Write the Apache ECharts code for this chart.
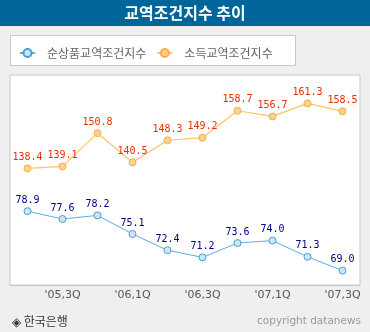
<!DOCTYPE html>
<html><head><meta charset="utf-8">
<script src="https://cdn.jsdelivr.net/npm/echarts@6/dist/echarts.min.js"></script>
<style>html,body{margin:0;padding:0;background:#efefef;}#c{width:370px;height:332px;}</style>
</head><body><div id="c"></div>
<script>
const categories = ["'05,2Q","'05,3Q","'05,4Q","'06,1Q","'06,2Q","'06,3Q","'06,4Q","'07,1Q","'07,2Q","'07,3Q"];
const netBarter = [78.9,77.6,78.2,75.1,72.4,71.2,73.6,74.0,71.3,69.0];
const incomeTerms = [138.4,139.1,150.8,140.5,148.3,149.2,158.7,156.7,161.3,158.5];
const seriesNames = ['순상품교역조건지수','소득교역조건지수'];
const titleText = '교역조건지수 추이';
const sourceText = '◈ 한국은행';
const copyrightText = 'copyright datanews';

const chart = echarts.init(document.getElementById('c'), null, {renderer:'canvas'});
chart.setOption({
  backgroundColor:'#efefef',
  animation:false,
  graphic:[
    {type:'rect', shape:{x:0,y:0,width:370,height:26}, style:{fill:'#006699'}, z:-1},
    {type:'text', x:185, y:13, style:{text:titleText, fill:'#fff', font:'bold 16px "Noto Sans CJK KR"', align:'center', verticalAlign:'middle'}},
    {type:'rect', shape:{x:10.5,y:35.5,width:285,height:30}, style:{fill:'#fff', stroke:'#c8c8c8', lineWidth:1}, z:-1},
    {type:'text', x:12, y:321, style:{text:sourceText, fill:'#333', font:'12px "Noto Sans CJK KR"', verticalAlign:'middle'}},
    {type:'text', x:361, y:321, style:{text:copyrightText, fill:'#999', font:'10.5px "DejaVu Sans"', align:'right', verticalAlign:'middle'}}
  ],
  legend:{
    left:14, top:42, itemGap:10, itemWidth:15, itemHeight:10,
    textStyle:{fontFamily:'Noto Sans CJK KR', fontSize:12, color:'#666', padding:[0,0,0,7]},
    data:seriesNames
  },
  grid:{left:10, right:10, top:75, bottom:47, show:true, backgroundColor:'#fff', borderColor:'#c8c8c8', borderWidth:1},
  xAxis:{
    type:'category', data:categories, boundaryGap:true,
    axisLine:{lineStyle:{color:'#c8c8c8'}},
    axisTick:{inside:true, length:5, alignWithLabel:true, interval:0, lineStyle:{color:'#888'}},
    axisLabel:{interval:function(i){return i%2===1;}, color:'#555', fontFamily:'DejaVu Sans', fontSize:11, margin:5},
    splitLine:{show:false}
  },
  yAxis:[
    {type:'value', show:false, min:66.6, max:101.6, splitLine:{show:false}},
    {type:'value', show:false, min:97.3, max:171.3, splitLine:{show:false}}
  ],
  series:[
    {name:seriesNames[0], type:'line', yAxisIndex:0, data:netBarter, symbol:'circle', symbolSize:7,
     lineStyle:{color:'#5aaee0', width:1}, itemStyle:{color:'#cfe5f6', borderColor:'#4a9fd6', borderWidth:1},
     label:{show:true, position:'top', distance:2, color:'#000080', fontFamily:'DejaVu Sans Mono', fontSize:10, formatter:p=>p.value.toFixed(1)}},
    {name:seriesNames[1], type:'line', yAxisIndex:1, data:incomeTerms, symbol:'circle', symbolSize:7,
     lineStyle:{color:'#ffc45e', width:1.2}, itemStyle:{color:'#ffd08e', borderColor:'#f6b04a', borderWidth:1},
     label:{show:true, position:'top', distance:2, color:'#ee2a00', fontFamily:'DejaVu Sans Mono', fontSize:10, formatter:p=>p.value.toFixed(1)}}
  ]
});
</script></body></html>
